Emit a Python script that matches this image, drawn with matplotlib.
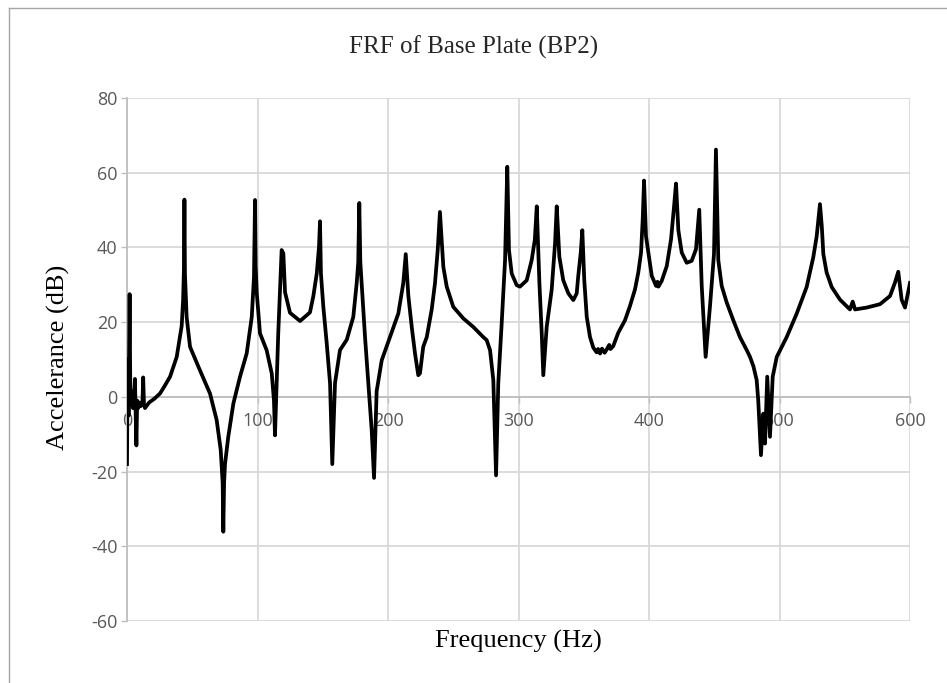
import matplotlib
matplotlib.use("Agg")
import matplotlib.pyplot as plt
from matplotlib.lines import Line2D

plt.rcParams["axes.unicode_minus"] = False

# Frequency (Hz) and acceleration (dB)
freq_hz = [
    0.0, 0.5, 1.2, 2.0, 2.6, 3.5, 4.5, 5.5, 6.1, 6.6, 7.2, 7.8, 8.6, 9.5, 10.5,
    11.8, 12.4, 13.0, 13.8, 17.0, 21.0, 25.3, 29.0, 33.0, 38.1, 41.9, 43.0, 43.6,
    44.0, 44.4, 45.7, 48.3, 55.9, 63.6, 68.7, 71.8, 73.3, 73.8, 74.4, 75.1, 77.6,
    81.5, 86.6, 91.7, 95.6, 97.3, 98.1, 98.6, 99.4, 101.9, 107.0, 110.9, 112.6,
    113.4, 115.9, 118.5, 119.8, 121.1, 124.9, 132.6, 140.2, 142.8, 145.4, 147.1,
    147.9, 148.6, 150.4, 153.0, 155.6, 157.3, 159.4, 163.2, 168.4, 173.4, 176.0,
    177.2, 178.0, 178.8, 179.8, 182.4, 184.9, 187.5, 189.3, 191.3, 195.2, 201.5,
    207.9, 211.7, 213.6, 215.6, 218.2, 220.7, 223.2, 224.5, 227.0, 229.7, 233.5,
    236.0, 238.1, 239.8, 242.4, 245.0, 250.0, 257.7, 265.4, 273.0, 275.6, 278.2,
    280.7, 282.8, 284.5, 287.1, 289.7, 291.4, 292.7, 294.8, 298.6, 301.1, 306.3,
    310.1, 312.5, 314.0, 316.0, 317.8, 319.0, 321.6, 325.4, 328.0, 329.3, 331.3,
    334.3, 338.2, 342.0, 344.6, 345.8, 347.7, 348.9, 350.4, 352.3, 354.8, 357.3,
    359.9, 361.0, 362.5, 364.0, 366.0, 367.6, 369.5, 370.5, 372.6, 376.5, 381.6,
    385.4, 389.3, 391.8, 393.9, 395.2, 396.2, 397.7, 399.5, 402.1, 405.4, 406.5,
    407.2, 409.7, 413.6, 416.9, 419.2, 420.7, 422.5, 425.1, 428.9, 432.7, 436.0,
    438.5, 440.4, 443.4, 446.7, 449.8, 451.3, 453.1, 455.7, 459.5, 464.6, 469.7,
    474.9, 477.4, 480.0, 482.5, 483.7, 485.8, 487.6, 488.9, 490.6, 492.7, 494.8,
    497.9, 505.5, 513.2, 520.8, 525.9, 528.5, 531.0, 532.4, 533.6, 536.1, 540.0,
    546.4, 554.0, 556.1, 557.9, 566.8, 577.0, 584.7, 588.5, 591.0, 593.6, 596.2,
    600.0,
]
accel_db = [
    -18.0, 10.0, -5.0, 27.5, -2.0, 1.5, -3.0, 1.0, 4.8, -4.0, -13.0, -1.0, -3.0,
    -1.5, -2.5, -2.0, 5.2, -2.0, -3.0, -1.5, -0.5, 0.9, 3.0, 5.4, 10.7, 19.0, 26.0,
    34.0, 52.8, 33.0, 21.4, 13.4, 7.1, 0.9, -6.2, -14.2, -23.0, -36.1, -23.0, -18.0,
    -10.7, -1.8, 5.4, 11.6, 21.4, 32.0, 52.7, 35.0, 28.0, 17.0, 12.5, 6.3, -0.9,
    -10.3, 17.0, 39.3, 38.4, 28.0, 22.5, 20.3, 22.6, 27.0, 33.0, 40.0, 47.0, 33.0,
    24.3, 14.5, 3.6, -18.0, 3.7, 12.5, 15.3, 21.4, 30.4, 36.0, 51.9, 36.0, 30.5,
    16.0, 3.6, -8.9, -21.7, 1.5, 9.8, 16.0, 22.3, 30.4, 38.2, 27.0, 18.7, 11.6,
    5.8, 6.3, 13.4, 16.0, 23.4, 30.4, 39.3, 49.5, 34.8, 29.5, 24.1, 21.0, 18.7,
    16.0, 15.2, 12.5, 4.5, -21.0, 3.6, 19.6, 36.6, 61.6, 39.3, 33.0, 29.9, 29.5,
    31.2, 36.6, 42.0, 51.0, 30.6, 17.0, 5.8, 18.7, 28.6, 41.0, 51.0, 37.5, 31.2,
    27.7, 25.9, 27.7, 32.4, 38.6, 44.6, 31.2, 21.4, 16.0, 13.2, 11.9, 12.8, 11.6,
    12.9, 11.8, 12.7, 13.9, 12.8, 13.6, 17.2, 20.5, 24.3, 28.8, 33.3, 38.6, 47.6,
    57.9, 43.0, 38.6, 32.4, 29.7, 30.8, 29.5, 31.0, 35.0, 42.2, 51.0, 57.1, 44.6,
    38.6, 35.9, 36.4, 39.5, 50.1, 29.7, 10.7, 24.1, 38.2, 66.2, 36.6, 29.7, 25.3,
    20.5, 16.0, 12.5, 10.7, 8.2, 4.5, -0.9, -15.6, -4.5, -12.5, 5.4, -10.7, 5.4,
    10.7, 16.0, 22.3, 29.4, 37.4, 43.0, 51.6, 45.7, 38.2, 33.3, 29.4, 26.0, 23.4,
    25.5, 23.4, 23.9, 24.8, 27.0, 30.6, 33.5, 26.0, 23.9, 30.5,
]

x_ticks = [0, 100, 200, 300, 400, 500, 600]
y_ticks = [-60, -40, -20, 0, 20, 40, 60, 80]
title = "FRF of Base Plate (BP2)"
x_label = "Frequency (Hz)"
y_label = "Accelerance (dB)"

W, H = 947, 683
fig = plt.figure(figsize=(W / 100, H / 100), dpi=100)
fig.patch.set_facecolor("white")

ax_left, ax_right, ax_top, ax_bottom = 127, 910, 98, 621
ax = fig.add_axes([ax_left / W, 1 - ax_bottom / H,
                   (ax_right - ax_left) / W, (ax_bottom - ax_top) / H])
ax.set_axisbelow(True)

ax.plot(freq_hz, accel_db, color="black", lw=2.7, solid_joinstyle="round",
        zorder=3)

ax.set_xlim(0, 600)
ax.set_ylim(-60, 80)
ax.set_xticks(x_ticks)
ax.set_yticks(y_ticks)
ax.grid(True, color="#d9d9d9", lw=1.3)

for s in ["top", "right"]:
    ax.spines[s].set_visible(False)
ax.spines["bottom"].set_position(("data", 0))
ax.spines["bottom"].set_color("#bfbfbf")
ax.spines["bottom"].set_linewidth(1.3)
ax.spines["left"].set_color("#bfbfbf")
ax.spines["left"].set_linewidth(1.3)

tick_font = "Open Sans"
ax.tick_params(axis="x", direction="out", length=4, width=1, color="#bfbfbf",
               labelsize=13, labelcolor="#595959", pad=7)
ax.tick_params(axis="y", direction="out", length=4, width=1, color="#bfbfbf",
               labelsize=13, labelcolor="#595959", pad=3)
for lab in ax.get_xticklabels() + ax.get_yticklabels():
    lab.set_fontfamily(tick_font)

serif = ["Liberation Serif", "DejaVu Serif"]
fig.text(0.5, 1 - 47 / H, title, ha="center", va="center",
         fontsize=18, family=serif, color="#262626")
fig.text((ax_left + ax_right) / 2 / W, 1 - 641 / H, x_label, ha="center",
         va="center", fontsize=19, family=serif, color="black")
fig.text(58 / W, 1 - 357 / H, y_label, ha="center", va="center",
         rotation=90, fontsize=19, family=serif, color="black")

# outer chart frame
fig.add_artist(Line2D([8.5 / W, 8.5 / W], [0, 1 - 7.5 / H],
                      transform=fig.transFigure, color="#a6a6a6", lw=1))
fig.add_artist(Line2D([8.5 / W, 1], [1 - 7.5 / H, 1 - 7.5 / H],
                      transform=fig.transFigure, color="#a6a6a6", lw=1))

fig.savefig("out.png", dpi=100, facecolor="white")
